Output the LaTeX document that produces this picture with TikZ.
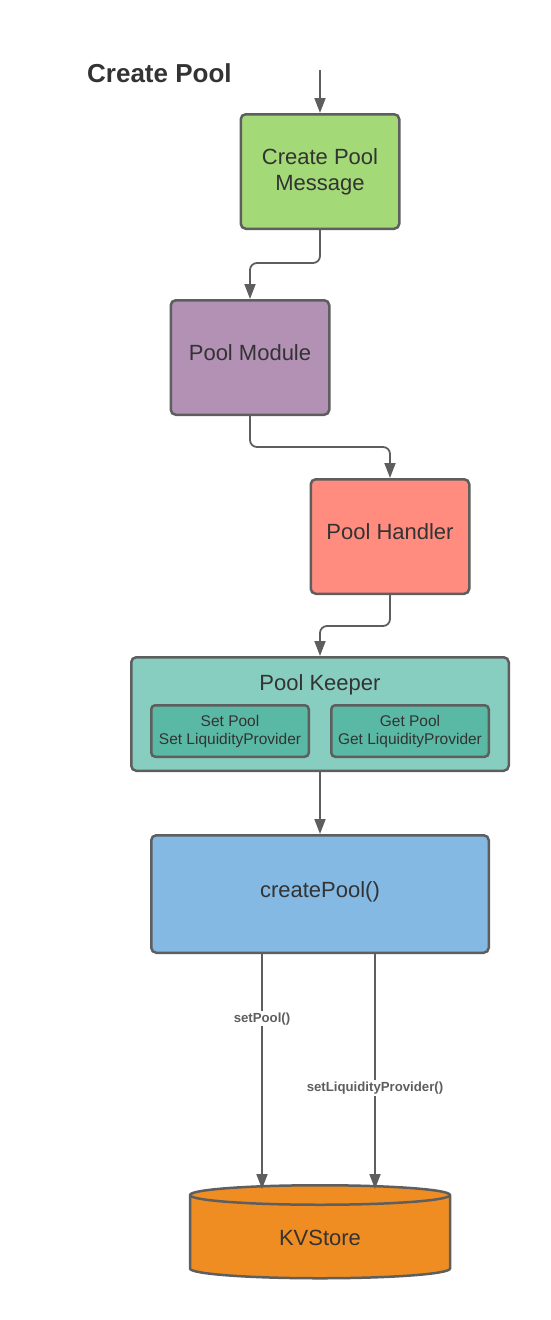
\documentclass[tikz,border=0pt]{standalone}
\usepackage{fontspec}
\setmainfont{Liberation Sans}
\usetikzlibrary{arrows.meta,positioning,calc,shapes.geometric}
\definecolor{Edge}{HTML}{5E5E5E}
\definecolor{Ink}{HTML}{333333}
\definecolor{MsgGreen}{HTML}{A3D977}
\definecolor{ModPurple}{HTML}{B291B5}
\definecolor{HdlSalmon}{HTML}{FF8C7F}
\definecolor{KeepTeal}{HTML}{88CEC0}
\definecolor{InnerTeal}{HTML}{5AB9A4}
\definecolor{FnBlue}{HTML}{83B9E3}
\definecolor{StoreOrange}{HTML}{EF8D22}

\begin{document}
\begin{tikzpicture}[
  font=\fontsize{22}{26}\selectfont, text=Ink,
  blk/.style={draw=Edge,line width=2.5pt,rounded corners=5pt,inner sep=4pt,
              align=center,minimum width=158.5pt,minimum height=114.5pt},
  oneline/.style={text depth=9pt},
  inbox/.style={draw=Edge,line width=2.5pt,rounded corners=4pt,fill=InnerTeal,
                align=center,minimum width=157.5pt,minimum height=51.5pt,inner sep=2pt,
                font=\fontsize{15.5}{18}\selectfont},
  lbl/.style={fill=white,inner sep=1.5pt,font=\fontsize{13.2}{15}\selectfont\bfseries},
  ar/.style={-{Triangle[length=15pt,width=11pt]},Edge,line width=1.8pt},
  elbow/.style={ar,rounded corners=7pt}]
\useasboundingbox (0,0) rectangle (550pt,-1320pt);
\node[anchor=west,inner sep=0pt,font=\fontsize{26}{30}\selectfont\bfseries] (title)
  at (87pt,-73pt) {Create Pool};
\node[blk,fill=MsgGreen] (msg) at (320pt,-171.5pt) {Create Pool\\Message};
\node[blk,oneline,fill=ModPurple,below=69pt of msg,xshift=-70pt] (mod) {Pool Module};
\node[blk,oneline,fill=HdlSalmon,below=62pt of mod,xshift=140pt] (hdl) {Pool Handler};
\node[blk,fill=KeepTeal,minimum width=377.5pt,minimum height=113.5pt,below=61pt of hdl,
      xshift=-70pt] (keep) {};
\node (ktitle) at ($(keep.north)+(0,-29pt)$) {Pool Keeper};
\node[inbox,anchor=south west] (setb) at ($(keep.south west)+(20pt,14pt)$)
  {Set Pool\\Set LiquidityProvider};
\node[inbox,anchor=south east] (getb) at ($(keep.south east)+(-20pt,14pt)$)
  {Get Pool\\Get LiquidityProvider};
\node[blk,oneline,fill=FnBlue,minimum width=337.5pt,minimum height=117.5pt,below=62pt of keep]
  (create) {createPool()};
\node[cylinder,shape border rotate=90,aspect=0.22,draw=Edge,line width=2.5pt,
      fill=StoreOrange,minimum width=260pt,minimum height=93pt,below=230pt of create]
  (kv) {KVStore};
% flow
\coordinate (in) at ($(msg.north)+(0,43pt)$);
\draw[ar] (in) -- (msg.north);
\draw[elbow] (msg.south) -- ++(0,-33pt) -| (mod.north);
\draw[elbow] (mod.south) -- ++(0,-31pt) -| (hdl.north);
\draw[elbow] (hdl.south) -- ++(0,-31pt) -| (keep.north);
\draw[ar] (keep.south) -- (create.north);
% store writes
\coordinate (w1) at ($(create.south)+(-58pt,0)$);
\coordinate (w2) at ($(create.south)+(55pt,0)$);
\draw[ar] (w1) -- ($(w1 |- kv.north)+(0,-5pt)$) node[lbl,pos=0.275] {setPool()};
\draw[ar] (w2) -- ($(w2 |- kv.north)+(0,-5pt)$) node[lbl,pos=0.57] {setLiquidityProvider()};
\end{tikzpicture}
\end{document}
